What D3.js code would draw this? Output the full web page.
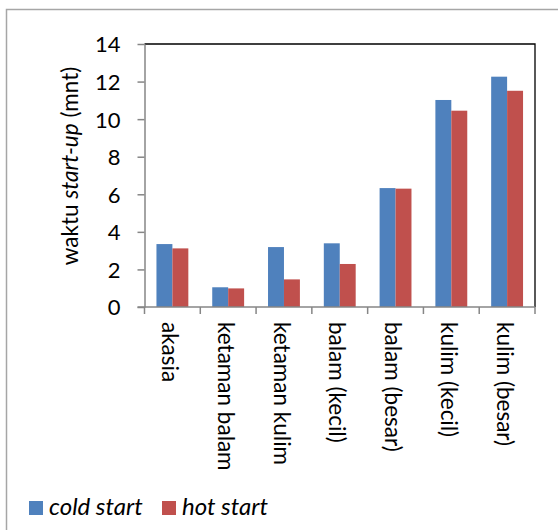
<!DOCTYPE html>
<html>
<head>
<meta charset="utf-8">
<script src="https://cdn.jsdelivr.net/npm/d3@7"></script>
<style>
  html, body { margin: 0; padding: 0; background: #fff; }
  svg { display: block; font-family: Lato, "Open Sans", sans-serif; }
</style>
</head>
<body>
<svg id="chart" width="558" height="530"></svg>
<script>
// Start-up time per fuel type, two start conditions
const categories = ["akasia", "ketaman balam", "ketaman kulim", "balam (kecil)", "balam (besar)", "kulim (kecil)", "kulim (besar)"];
const seriesNames = ["cold start", "hot start"];
const coldStart = [3.35, 1.05, 3.19, 3.39, 6.33, 11.02, 12.26];
const hotStart  = [3.12, 0.99, 1.47, 2.29, 6.30, 10.45, 11.51];
const yTicks = [0, 2, 4, 6, 8, 10, 12, 14];
const colors = ["#4f81bd", "#c0504d"];

const svg = d3.select("#chart");

// outer chart frame
svg.append("path")
  .attr("d", "M6.5,540 V9.5 H570")
  .attr("fill", "none").attr("stroke", "#a6a6a6").attr("stroke-width", 1.5);

const plot = { left: 144.5, right: 535, top: 44, bottom: 307 };

const x = d3.scaleBand().domain(categories).range([plot.left, plot.right]);
const inner = d3.scaleBand().domain(seriesNames).range([0, x.bandwidth()]).paddingInner(0).paddingOuter(0.75);
const y = d3.scaleLinear().domain([0, 14]).range([plot.bottom, plot.top]);

// plot area border (top and right)
svg.append("path")
  .attr("d", `M${plot.left},${plot.top} H${plot.right} V${plot.bottom}`)
  .attr("fill", "none").attr("stroke", "#000").attr("stroke-width", 1.3);

// bars
const data = [coldStart, hotStart];
seriesNames.forEach((s, si) => {
  svg.append("g").selectAll("rect")
    .data(categories)
    .join("rect")
    .attr("x", c => x(c) + inner(s))
    .attr("y", (c, i) => y(data[si][i]))
    .attr("width", inner.bandwidth())
    .attr("height", (c, i) => y(0) - y(data[si][i]))
    .attr("fill", colors[si]);
});

// y axis
const yAxis = svg.append("g")
  .attr("transform", `translate(${plot.left},0)`)
  .call(d3.axisLeft(y).tickValues(yTicks).tickSize(7).tickPadding(17).tickSizeOuter(0));
yAxis.select(".domain").attr("stroke", "#868686").attr("stroke-width", 1.5);
yAxis.selectAll(".tick line").attr("stroke", "#868686").attr("stroke-width", 1.5);
yAxis.selectAll(".tick text")
  .attr("font-size", 22).attr("fill", "#000").attr("dy", "0.36em")
  .attr("font-family", "Lato, 'Open Sans', sans-serif");

// x axis line and category separators
const xAxis = svg.append("g")
  .attr("transform", `translate(0,${plot.bottom})`);
xAxis.append("line")
  .attr("x1", plot.left - 7).attr("x2", plot.right)
  .attr("stroke", "#868686").attr("stroke-width", 1.5);
const bounds = categories.map(c => x(c)).concat([plot.right]);
xAxis.selectAll("line.sep")
  .data(bounds)
  .join("line").attr("class", "sep")
  .attr("x1", d => d).attr("x2", d => d)
  .attr("y1", 0).attr("y2", 7)
  .attr("stroke", "#868686").attr("stroke-width", 1.5);

// rotated category labels
xAxis.selectAll("text.cat")
  .data(categories)
  .join("text").attr("class", "cat")
  .attr("transform", c => `translate(${x(c) + x.bandwidth() / 2 - 3},15) rotate(90)`)
  .attr("dy", "0.33em")
  .attr("font-size", 22.5)
  .attr("fill", "#000")
  .text(c => c);

// y axis title
const title = svg.append("text")
  .attr("transform", `translate(78,166) rotate(-90)`)
  .attr("text-anchor", "middle")
  .attr("font-size", 22.5)
  .attr("fill", "#000");
title.append("tspan").text("waktu ");
title.append("tspan").attr("font-style", "italic").text("start-up");
title.append("tspan").text(" (mnt)");

// legend
const legend = svg.append("g");
const legendX = [29, 162];
seriesNames.forEach((s, i) => {
  legend.append("rect")
    .attr("x", legendX[i]).attr("y", 501)
    .attr("width", 14).attr("height", 14)
    .attr("fill", colors[i]);
  legend.append("text")
    .attr("x", legendX[i] + 20).attr("y", 515)
    .attr("font-size", 24).attr("font-style", "italic")
    .attr("fill", "#000")
    .text(s);
});
</script>
</body>
</html>
